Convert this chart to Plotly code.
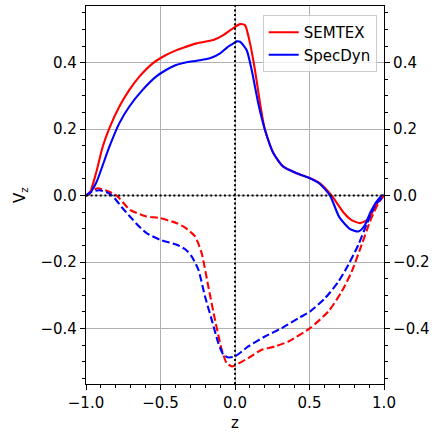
import plotly.graph_objects as go

# Axial velocity profiles V_z(z): solid = first component, dashed = second component
z_semtex = [-1.0, -0.978, -0.933, -0.888, -0.843, -0.776, -0.709, -0.642, -0.552, -0.463,
            -0.396, -0.347, -0.257, -0.146, -0.078, 0.0, 0.034, 0.067, 0.101, 0.134,
            0.168, 0.201, 0.257, 0.324, 0.414, 0.503, 0.570, 0.649, 0.727, 0.78,
            0.839, 0.88, 0.906, 0.951, 0.99, 1.0]
v_semtex = [0.0, 0.004, 0.067, 0.147, 0.203, 0.268, 0.318, 0.358, 0.398, 0.423,
            0.437, 0.445, 0.458, 0.468, 0.483, 0.508, 0.516, 0.513, 0.458, 0.378,
            0.278, 0.198, 0.128, 0.087, 0.067, 0.052, 0.037, 0.0, -0.05, -0.073,
            -0.083, -0.075, -0.063, -0.023, 0.0, 0.0]

z_specdyn = [-1.0, -0.97, -0.93, -0.899, -0.843, -0.776, -0.709, -0.62, -0.53, -0.463,
             -0.40, -0.347, -0.257, -0.168, -0.10, -0.05, 0.0, 0.011, 0.034, 0.078, 0.112,
             0.156, 0.201, 0.257, 0.324, 0.414, 0.503, 0.570, 0.638, 0.70, 0.77,
             0.828, 0.87, 0.906, 0.95, 0.99, 1.0]
v_specdyn = [0.0, 0.01, 0.04, 0.077, 0.147, 0.218, 0.268, 0.318, 0.358, 0.378,
             0.392, 0.399, 0.406, 0.413, 0.428, 0.447, 0.461, 0.464, 0.463, 0.438, 0.378,
             0.278, 0.198, 0.128, 0.087, 0.067, 0.052, 0.035, 0.0, -0.065, -0.10,
             -0.108, -0.09, -0.053, -0.018, 0.0, 0.0]

z_semtex_2 = [-1.0, -0.96, -0.92, -0.87, -0.794, -0.705, -0.6, -0.503, -0.391, -0.33,
              -0.268, -0.224, -0.179, -0.134, -0.089, -0.056, -0.022, 0.0, 0.089, 0.179,
              0.268, 0.358, 0.503, 0.626, 0.716, 0.783, 0.85, 0.906, 0.962, 1.0]
v_semtex_2 = [0.0, 0.015, 0.022, 0.016, 0.0, -0.043, -0.062, -0.068, -0.083, -0.098,
              -0.123, -0.173, -0.274, -0.374, -0.464, -0.504, -0.514, -0.511, -0.489, -0.464,
              -0.454, -0.439, -0.399, -0.349, -0.289, -0.229, -0.148, -0.078, -0.023, 0.0]

z_specdyn_2 = [-1.0, -0.96, -0.91, -0.86, -0.82, -0.76, -0.705, -0.65, -0.593, -0.503,
               -0.391, -0.33, -0.291, -0.246, -0.201, -0.156, -0.112, -0.078, -0.045, 0.0,
               0.089, 0.201, 0.313, 0.425, 0.503, 0.604, 0.694, 0.761, 0.828, 0.884,
               0.94, 1.0]
v_specdyn_2 = [0.0, 0.012, 0.016, 0.01, -0.002, -0.035, -0.063, -0.09, -0.113, -0.133,
               -0.148, -0.163, -0.183, -0.223, -0.304, -0.374, -0.444, -0.479, -0.487, -0.484,
               -0.454, -0.424, -0.399, -0.369, -0.349, -0.309, -0.259, -0.208, -0.148, -0.086,
               -0.03, 0.0]

x_ticks = [-1.0, -0.5, 0.0, 0.5, 1.0]
y_ticks = [-0.4, -0.2, 0.0, 0.2, 0.4]
y_range = [-0.567, 0.5705]

RED = "#ff0000"
BLUE = "#0000ff"
FONT = "DejaVu Sans"
FS = 15
LW = 2.1
DASH = "7.5px,3.3px"

fig = go.Figure()
fig.add_trace(go.Scatter(x=z_semtex, y=v_semtex, mode="lines", name="SEMTEX",
                         line=dict(color=RED, width=LW, shape="spline", smoothing=0.6)))
fig.add_trace(go.Scatter(x=z_specdyn, y=v_specdyn, mode="lines", name="SpecDyn",
                         line=dict(color=BLUE, width=LW, shape="spline", smoothing=0.6)))
fig.add_trace(go.Scatter(x=z_semtex_2, y=v_semtex_2, mode="lines", showlegend=False,
                         line=dict(color=RED, width=LW, dash=DASH, shape="spline", smoothing=0.6)))
fig.add_trace(go.Scatter(x=z_specdyn_2, y=v_specdyn_2, mode="lines", showlegend=False,
                         line=dict(color=BLUE, width=LW, dash=DASH, shape="spline", smoothing=0.6)))
# invisible trace to bring up the right-hand axis
fig.add_trace(go.Scatter(x=[0], y=[0], yaxis="y2", mode="markers", showlegend=False,
                         marker=dict(opacity=0), hoverinfo="skip"))

# zero reference lines
fig.add_shape(type="line", xref="x", yref="paper", x0=0, x1=0, y0=0, y1=1,
              line=dict(color="black", width=2, dash="2px,2.6px"), layer="above")
fig.add_shape(type="line", xref="paper", yref="y", x0=0, x1=1, y0=0, y1=0,
              line=dict(color="black", width=2, dash="2px,2.6px"), layer="above")

axis_common = dict(
    showline=True, linecolor="black", linewidth=1.2,
    ticks="outside", ticklen=5, tickwidth=1.1, tickcolor="black",
    tickfont=dict(family=FONT, size=FS, color="black"),
    tickformat=".1f", zeroline=False,
)

fig.update_layout(
    width=435, height=435,
    margin=dict(l=86, r=51, t=6, b=51),
    paper_bgcolor="white", plot_bgcolor="white",
    font=dict(family=FONT, size=FS, color="black"),
    xaxis=dict(range=[-1, 1], tickvals=x_ticks, mirror=True,
               showgrid=True, gridcolor="#b0b0b0", gridwidth=1.1,
               minor=dict(ticks="outside", ticklen=3, tickwidth=1, tickcolor="black",
                          dtick=0.1, tick0=0, showgrid=False),
               **axis_common),
    yaxis=dict(range=y_range, tickvals=y_ticks,
               showgrid=True, gridcolor="#b0b0b0", gridwidth=1.1,
               minor=dict(ticks="outside", ticklen=3, tickwidth=1, tickcolor="black",
                          dtick=0.05, tick0=0, showgrid=False),
               **axis_common),
    yaxis2=dict(range=y_range, tickvals=y_ticks, overlaying="y", side="right", anchor="x",
                showgrid=False,
                minor=dict(ticks="outside", ticklen=3, tickwidth=1, tickcolor="black",
                           dtick=0.05, tick0=0, showgrid=False),
                **axis_common),
    legend=dict(x=0.9755, y=0.976, xanchor="right", yanchor="top",
                bgcolor="rgba(255,255,255,0.8)", bordercolor="#cccccc", borderwidth=1,
                font=dict(family=FONT, size=FS, color="black"),
                tracegroupgap=0, itemwidth=30),
    showlegend=True,
    annotations=[
        dict(text="V<sub>z</sub>", xref="paper", yref="paper", x=-0.2215, y=0.5,
             showarrow=False, textangle=-90, font=dict(family=FONT, size=FS),
             xanchor="center", yanchor="middle"),
        dict(text="z", xref="paper", yref="paper", x=0.5, y=-0.103,
             showarrow=False, font=dict(family=FONT, size=FS),
             xanchor="center", yanchor="middle"),
    ],
)

fig.write_html("out.html")
